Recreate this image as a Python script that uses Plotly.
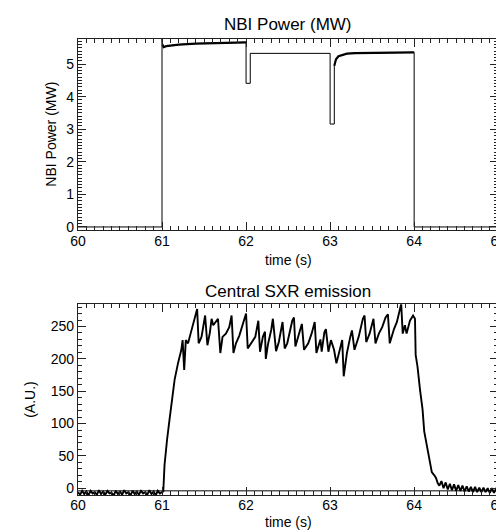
import plotly.graph_objects as go

# ---------------- data ----------------
nbi_t = [60.0, 61.0, 61.0, 61.005, 61.02, 61.05, 61.1, 61.2, 61.4, 61.6, 61.8, 62.0,
         62.0, 62.05, 62.05, 63.0, 63.0, 63.05, 63.05, 63.07, 63.1, 63.15, 63.2,
         63.3, 63.5, 63.8, 64.0, 64.0, 65.0]
nbi_p = [0.0, 0.0, 5.78, 5.6, 5.52, 5.55, 5.57, 5.6, 5.63, 5.65, 5.66, 5.67,
         4.41, 4.41, 5.33, 5.33, 3.16, 3.16, 4.95, 5.15, 5.24, 5.29, 5.32,
         5.34, 5.35, 5.36, 5.36, 0.0, 0.0]

sxr_pre_t = [60.0, 60.025, 60.05, 60.075, 60.1, 60.125, 60.15, 60.175, 60.2, 60.225,
             60.25, 60.275, 60.3, 60.325, 60.35, 60.375, 60.4, 60.425, 60.45, 60.475,
             60.5, 60.525, 60.55, 60.575, 60.6, 60.625, 60.65, 60.675, 60.7, 60.725,
             60.75, 60.775, 60.8, 60.825, 60.85, 60.875, 60.9, 60.925, 60.95, 60.975, 61.0]
sxr_pre_v = [-6, -10, -4, -9, -5, -11, -4, -8, -6, -10,
             -3, -9, -5, -10, -4, -8, -7, -11, -4, -9,
             -5, -10, -3, -8, -6, -11, -4, -9, -5, -10,
             -4, -8, -6, -10, -3, -9, -5, -11, -4, -8, -6]

sxr_main_t = [61.015, 61.03, 61.05, 61.06, 61.09, 61.12, 61.15, 61.19, 61.23, 61.245,
              61.264, 61.283, 61.31, 61.34, 61.38, 61.418, 61.436, 61.47, 61.513, 61.54,
              61.57, 61.59, 61.61, 61.666, 61.694, 61.72, 61.76, 61.80, 61.828, 61.85,
              61.88, 61.92, 61.962, 62.0, 62.02, 62.07, 62.11, 62.146, 62.166, 62.20,
              62.225, 62.235, 62.26, 62.3, 62.319, 62.357, 62.39, 62.434, 62.46, 62.49,
              62.55, 62.57, 62.587, 62.62, 62.664, 62.69, 62.74, 62.78, 62.817, 62.837,
              62.87, 62.885, 62.90, 62.932, 62.95, 62.98, 63.01, 63.047, 63.075, 63.12,
              63.144, 63.162, 63.20, 63.24, 63.26, 63.29, 63.34, 63.39, 63.41, 63.43,
              63.47, 63.516, 63.54, 63.58, 63.62, 63.66, 63.688, 63.71, 63.76, 63.795,
              63.846, 63.864, 63.89, 63.91, 63.95, 63.987, 64.01, 64.018, 64.04, 64.07,
              64.10, 64.12, 64.14, 64.16, 64.185, 64.21, 64.24, 64.26, 64.28]
sxr_main_v = [-5, 36, 66, 75, 107, 137, 168, 193, 214, 229,
              183, 229, 224, 239, 259, 277, 224, 234, 267, 221,
              241, 262, 252, 262, 209, 234, 239, 249, 267, 209,
              224, 236, 254, 270, 216, 226, 234, 259, 211, 234,
              242, 200, 222, 245, 262, 212, 226, 257, 216, 224,
              259, 264, 219, 234, 254, 214, 224, 239, 257, 209,
              224, 230, 211, 241, 246, 211, 229, 214, 193, 214,
              229, 173, 209, 234, 244, 214, 234, 262, 267, 226,
              239, 262, 224, 239, 249, 264, 269, 224, 246, 257,
              285, 239, 252, 239, 259, 267, 262, 206, 188, 152,
              122, 88, 74, 62, 42, 25, 20, 16, 8]

sxr_post_t = [64.3, 64.325, 64.35, 64.375, 64.4, 64.425, 64.45, 64.475, 64.5, 64.525,
              64.55, 64.575, 64.6, 64.625, 64.65, 64.675, 64.7, 64.725, 64.75, 64.775,
              64.8, 64.825, 64.85, 64.875, 64.9, 64.925, 64.95, 64.975, 65.0]
sxr_post_v = [4, 11, 0, 9, -2, 7, -3, 6, -4, 5,
              -4, 4, -5, 3, -5, 2, -6, 2, -6, 1,
              -6, 1, -6, 0, -7, 0, -7, -1, -6]

sxr_base_t = [60.0, 65.0]
sxr_base_v = [-4, -4]

x_ticks = [60, 61, 62, 63, 64, 65]
nbi_ticks = [0, 1, 2, 3, 4, 5]
sxr_ticks = [0, 50, 100, 150, 200, 250]

# ---------------- figure ----------------
W, H = 504, 532
FONT = "Liberation Sans, Arial, Helvetica, sans-serif"

def px_x(p):
    return p / W

def px_y(p):
    return 1 - p / H

fig = go.Figure()

fig.add_trace(go.Scatter(x=nbi_t, y=nbi_p, mode="lines",
                         line=dict(color="black", width=1),
                         xaxis="x", yaxis="y", showlegend=False))
# noisy (ripple) plateaus drawn heavier
rip_t = nbi_t[3:12] + [None] + nbi_t[18:27]
rip_p = nbi_p[3:12] + [None] + nbi_p[18:27]
fig.add_trace(go.Scatter(x=rip_t, y=rip_p, mode="lines",
                         line=dict(color="black", width=2.2),
                         xaxis="x", yaxis="y", showlegend=False))

fig.add_trace(go.Scatter(x=sxr_base_t, y=sxr_base_v, mode="lines",
                         line=dict(color="black", width=1),
                         xaxis="x2", yaxis="y2", showlegend=False))
all_t = sxr_pre_t + sxr_main_t + sxr_post_t
all_v = sxr_pre_v + sxr_main_v + sxr_post_v
fig.add_trace(go.Scatter(x=all_t, y=all_v, mode="lines",
                         line=dict(color="black", width=1.9),
                         xaxis="x2", yaxis="y2", showlegend=False))

axis_common = dict(showline=True, linecolor="#222", linewidth=1, mirror="ticks",
                   ticks="inside", ticklen=8, tickcolor="#222", tickwidth=1,
                   showgrid=False, zeroline=False, ticklabeloverflow="allow",
                   tickfont=dict(family=FONT, size=14, color="black"))

fig.update_layout(
    width=W, height=H,
    margin=dict(l=0, r=0, t=0, b=0),
    paper_bgcolor="white", plot_bgcolor="white",
    xaxis=dict(domain=[px_x(64), px_x(498)], range=[60, 65], anchor="y",
               tickvals=x_ticks, ticktext=[str(v) for v in x_ticks],
               ticklabelstandoff=-2,
               minor=dict(dtick=0.1, ticklen=4, ticks="inside", tickcolor="#222"),
               **axis_common),
    yaxis=dict(domain=[px_y(224), px_y(31)], range=[-0.09, 5.78], anchor="x",
               tickvals=nbi_ticks, ticktext=[str(v) for v in nbi_ticks],
               minor=dict(dtick=0.1, ticklen=4, ticks="inside", tickcolor="#222"),
               **axis_common),
    xaxis2=dict(domain=[px_x(64), px_x(498)], range=[60, 65], anchor="y2",
                tickvals=x_ticks, ticktext=[str(v) for v in x_ticks],
                ticklabelstandoff=-3,
                minor=dict(dtick=0.1, ticklen=4, ticks="inside", tickcolor="#222"),
                **axis_common),
    yaxis2=dict(domain=[px_y(492), px_y(299)], range=[-11, 284.5], anchor="x2",
                tickvals=sxr_ticks, ticktext=[str(v) for v in sxr_ticks],
                minor=dict(dtick=10, ticklen=4, ticks="inside", tickcolor="#222"),
                **axis_common),
)

def ann(text, x, y, size, angle=0):
    fig.add_annotation(text=text, x=px_x(x), y=px_y(y), xref="paper", yref="paper",
                       showarrow=False, xanchor="center", yanchor="middle",
                       textangle=angle, font=dict(family=FONT, size=size, color="black"))

ann("NBI Power (MW)", 281, 17, 17)
ann("time (s)", 281, 254, 14)
ann("NBI Power (MW)", 36, 127, 14, -90)
ann("Central SXR emission", 281, 286, 17)
ann("time (s)", 281, 519, 14)
ann("(A.U.)", 15, 395, 14, -90)

fig.write_html("out.html")
